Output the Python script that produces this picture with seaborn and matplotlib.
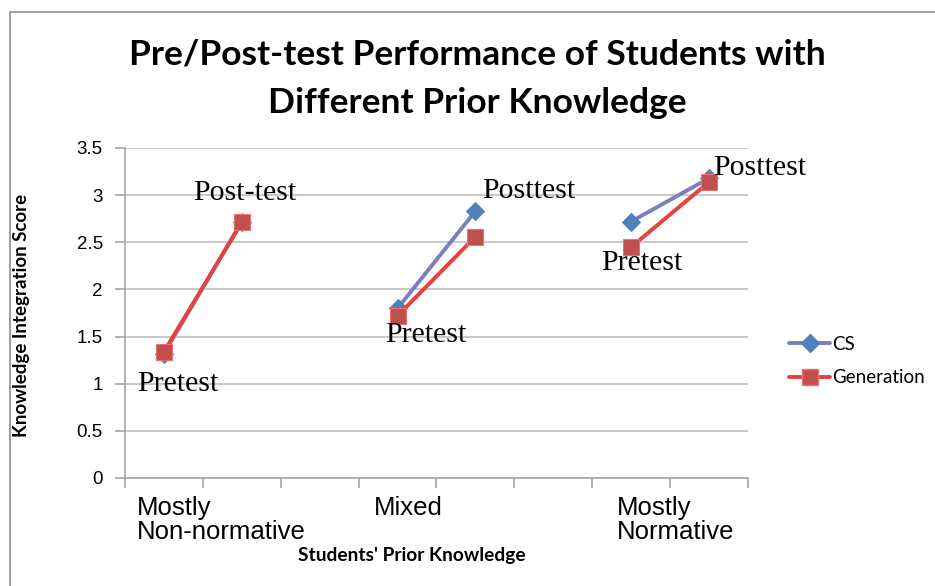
import numpy as np
import pandas as pd
import seaborn as sns
import matplotlib.pyplot as plt
from matplotlib.lines import Line2D
from matplotlib.patches import Rectangle

# Category slots along the x axis (8 slots; slots 2 and 5 are left empty as gaps)
slots = ["NN-pre", "NN-post", "", "MX-pre", "MX-post", "", "MN-pre", "MN-post"]
groups = ["Mostly\nNon-normative", "Mixed", "Mostly\nNormative"]

# Scores per group: pretest, posttest
cs_pre = [1.32, 1.80, 2.72]
cs_post = [2.72, 2.83, 3.18]
gen_pre = [1.34, 1.72, 2.45]
gen_post = [2.71, 2.56, 3.14]

point_labels = ["Pretest", "Post-test", "Pretest", "Posttest", "Pretest", "Posttest"]
y_tick_labels = ["0", "0.5", "1", "1.5", "2", "2.5", "3", "3.5"]

sns.set_theme(style="white")
plt.rcParams["font.family"] = ["Liberation Sans", "DejaVu Sans"]
plt.rcParams["text.color"] = "black"
plt.rcParams["ytick.labelcolor"] = "black"

# Long-form table: one row per point, 'group' splits each series into segments
rows = []
for gi in range(3):
    for series, pre, post in [("CS", cs_pre, cs_post),
                              ("Generation", gen_pre, gen_post)]:
        rows.append(dict(series=series, group=gi, pos=3 * gi, score=pre[gi]))
        rows.append(dict(series=series, group=gi, pos=3 * gi + 1, score=post[gi]))
df = pd.DataFrame(rows)

fig = plt.figure(figsize=(9.35, 5.86), dpi=100)
ax = fig.add_axes([125 / 935, 1 - 478 / 586, (748 - 125) / 935, (478 - 148) / 586])

styles = {
    "CS": dict(color="#7B7EBE", marker="D", markersize=9,
               markerfacecolor="#4F81BD", markeredgecolor="#4F81BD"),
    "Generation": dict(color="#E8413C", marker="s", markersize=12,
                       markerfacecolor="#C0504D", markeredgecolor="#F07070"),
}
for name in ["CS", "Generation"]:
    sub = df[df.series == name]
    sns.lineplot(data=sub, x="pos", y="score", units="group", estimator=None,
                 ax=ax, linewidth=2.8, legend=False, zorder=3, **styles[name])

ax.set_xlim(-0.5, len(slots) - 0.5)
ax.set_ylim(0, 3.5)
ax.set_yticks(np.arange(0, 3.51, 0.5))
ax.set_yticklabels(y_tick_labels, fontsize=13.5)
ax.set_xticks(np.arange(-0.5, len(slots)))
ax.set_xticklabels([])
ax.yaxis.grid(True, color="#BFBFBF", linewidth=1.2)
ax.tick_params(axis="both", which="both", direction="out", length=7,
               color="#A6A6A6", width=1.2, left=True, bottom=True)
ax.tick_params(axis="y", pad=9)
for s in ["top", "right"]:
    ax.spines[s].set_visible(False)
for s in ["left", "bottom"]:
    ax.spines[s].set_color("#A6A6A6")
    ax.spines[s].set_linewidth(1.2)
ax.set_xlabel("")
ax.set_ylabel("")

# Group labels under the axis
group_x = [-0.35, 2.70, 5.82]
for gx, g in zip(group_x, groups):
    ax.text(gx, -0.19, g, ha="left", va="top", fontsize=18.5, linespacing=1.0,
            clip_on=False, color="black")

# Pre/post annotations (baseline positions)
ann_pos = [(-0.35, 0.92), (0.37, 2.95), (2.84, 1.44), (4.08, 2.97), (5.61, 2.21), (7.05, 3.21)]
for (tx, ty), txt in zip(ann_pos, point_labels):
    ax.text(tx, ty, txt, ha="left", va="baseline", fontsize=21.5,
            family=["Liberation Serif", "DejaVu Serif"], color="black",
            clip_on=False, zorder=5)

# Title and axis titles
title_font = ["Lato", "DejaVu Sans"]
fig.text(477 / 935, 1 - 55 / 586, "Pre/Post-test Performance of Students with",
         ha="center", va="center", fontsize=25.5, fontweight="bold", family=title_font)
fig.text(477 / 935, 1 - 103 / 586, "Different Prior Knowledge",
         ha="center", va="center", fontsize=25.5, fontweight="bold", family=title_font)
fig.text(22 / 935, 1 - 315 / 586, "Knowledge Integration Score", rotation=90,
         ha="center", va="center", fontsize=13.5, fontweight="bold", family=title_font)
fig.text(412 / 935, 1 - 555 / 586, "Students' Prior Knowledge",
         ha="center", va="center", fontsize=13.8, fontweight="bold", family=title_font)

# Legend
handles = [Line2D([], [], **styles["CS"], linewidth=2.8),
           Line2D([], [], **styles["Generation"], linewidth=2.8)]
fig.legend(handles, ["CS", "Generation"], loc="center left",
           bbox_to_anchor=(772 / 935, 1 - 361 / 586), frameon=False,
           prop={"family": title_font, "size": 13.5},
           handlelength=2.2, handletextpad=0.1, labelspacing=0.9)

# Chart area frame
fig.patches.append(Rectangle((10 / 935, -0.05), 1.0, 1 - 12 / 586 + 0.05,
                             transform=fig.transFigure, fill=False,
                             edgecolor="#8C8C8C", linewidth=1.2))

fig.savefig("out.png", dpi=100)
